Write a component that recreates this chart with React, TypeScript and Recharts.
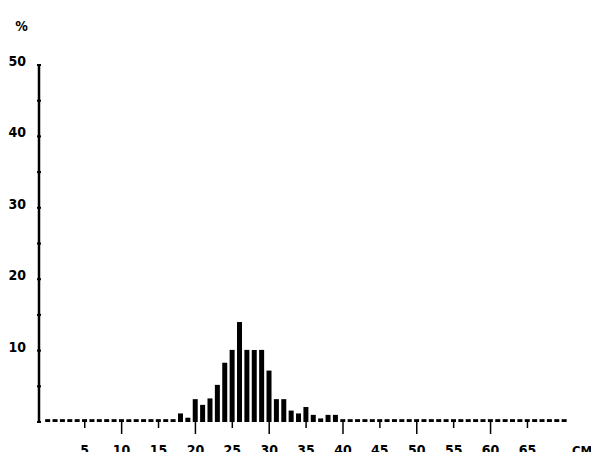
import React from 'react';
import { BarChart, Bar, XAxis, YAxis } from 'recharts';

// length class (cm) and share of catch (%)
const lengths = Array.from({ length: 71 }, (_, i) => i);
const percents = [
  0.4, 0.4, 0.4, 0.4, 0.4, 0.4, 0.4, 0.4, 0.4, 0.4,
  0.4, 0.4, 0.4, 0.4, 0.4, 0.4, 0.4, 0.4, 1.2, 0.6,
  3.2, 2.4, 3.3, 5.2, 8.3, 10.1, 14.0, 10.1, 10.1, 10.1,
  7.2, 3.2, 3.2, 1.6, 1.2, 2.1, 1.0, 0.5, 1.0, 1.0,
  0.4, 0.4, 0.4, 0.4, 0.4, 0.4, 0.4, 0.4, 0.4, 0.4,
  0.4, 0.4, 0.4, 0.4, 0.4, 0.4, 0.4, 0.4, 0.4, 0.4,
  0.4, 0.4, 0.4, 0.4, 0.4, 0.4, 0.4, 0.4, 0.4, 0.4,
  0.4,
];
const xTicks = [5, 10, 15, 20, 25, 30, 35, 40, 45, 50, 55, 60, 65, 72.4];
const yTicks = [0, 5, 10, 15, 20, 25, 30, 35, 40, 45, 50];

const data = lengths.map((cm, i) => ({ cm, pct: percents[i] }));

const font = "'Liberation Sans Narrow', 'DejaVu Sans Condensed', sans-serif";

const XTick = (props: any) => {
  const { x, y, payload } = props;
  const v = payload.value;
  if (v > 70) {
    return (
      <text x={x} y={y + 25} textAnchor="middle" fontFamily={font} fontWeight="bold" fontSize={13} fill="#000">
        CM
      </text>
    );
  }
  const len = v % 10 === 0 ? 12 : 6;
  return (
    <g>
      <line x1={x} y1={y - 8} x2={x} y2={y - 8 + len} stroke="#000" strokeWidth={1.5} />
      <text x={x} y={y + 25} textAnchor="middle" fontFamily={font} fontWeight="bold" fontSize={14} fill="#000">
        {v}
      </text>
    </g>
  );
};

const YTick = (props: any) => {
  const { x, y, payload } = props;
  const v = payload.value;
  return (
    <g>
      <line x1={x + 6} y1={y} x2={x + 10} y2={y} stroke="#000" strokeWidth={2} />
      {v > 0 && v % 10 === 0 && (
        <text x={x - 5} y={y + 1} textAnchor="end" fontFamily={font} fontWeight="bold" fontSize={14} fill="#000">
          {v}
        </text>
      )}
    </g>
  );
};

export default function App() {
  return (
    <div style={{ margin: -8, background: '#fff', width: 599, height: 460 }}>
      <BarChart
        width={599}
        height={460}
        data={data}
        margin={{ top: 65, right: 14, bottom: 0, left: 4 }}
      >
        <XAxis
          dataKey="cm"
          type="number"
          domain={[-1.2, 72.8]}
          ticks={xTicks}
          axisLine={false}
          tickLine={false}
          height={38}
          tick={<XTick />}
          allowDataOverflow
        />
        <YAxis
          type="number"
          domain={[0, 50]}
          ticks={yTicks}
          width={35}
          axisLine={{ stroke: '#000', strokeWidth: 2.5 }}
          tickLine={false}
          tick={<YTick />}
          label={{ value: '%', position: 'top', offset: 34, fontFamily: font, fontWeight: 'bold', fontSize: 14, fill: '#000' }}
        />
        <Bar dataKey="pct" fill="#000" barSize={5} isAnimationActive={false} />
      </BarChart>
    </div>
  );
}
